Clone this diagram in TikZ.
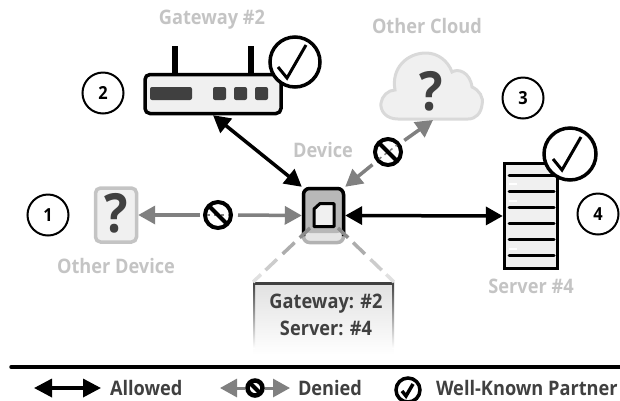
\documentclass[tikz,border=0pt]{standalone}
\usepackage{fontspec}
\setmainfont[FakeStretch=0.91]{Open Sans}
\usetikzlibrary{arrows.meta,calc}
\definecolor{lbl}{HTML}{C4C4C4}
\definecolor{ink}{HTML}{404040}
\definecolor{pale}{HTML}{F0F0F0}
\definecolor{deny}{HTML}{808080}
\newcommand{\fs}[1]{\fontsize{#1}{#1}\selectfont\bfseries}
\newcommand{\wkcheck}[2]{\draw[line width=3pt,line join=miter] ($(#1)+(-17,5)$) -- ($(#1)+(-8,16)$) -- ($(#1)+(11,-17)$);}
\tikzset{
  x=1pt,y=-1pt,
  every node/.style={inner sep=0pt,outer sep=0pt},
  caption/.style={text=lbl,font=\fs{20},anchor=base},
  legendtext/.style={text=ink,font=\fs{20},anchor=base west},
  numcircle/.style={circle,draw=black,line width=2pt,fill=white,minimum size=41pt,font=\fs{18}},
  checkcircle/.style={circle,draw=black,line width=3.5pt,fill=white,minimum size=50pt},
  stopsign/.style={circle,draw=black,line width=4pt,fill=white,minimum size=26pt},
  bigtips/.style={{Triangle[length=17pt,width=18pt]}-{Triangle[length=17pt,width=18pt]}},
  allowed/.style={line width=3.5pt,black,bigtips},
  denied/.style={line width=3.5pt,deny,-{Triangle[length=17pt,width=18pt]}},
  qmark/.style={text=ink,font=\fs{54}},
}
\begin{document}
\begin{tikzpicture}
\useasboundingbox (0,0) rectangle (620,400);
% numbered circles
\node[numcircle] (n1) at (48,215) {1};
\node[numcircle] (n2) at (103,93) {2};
\node[numcircle] (n3) at (523,98) {3};
\node[numcircle] (n4) at (598,214) {4};
% captions
\node[caption] (capgw) at (212,24) {Gateway \#2};
\node[caption] (capcl) at (427,33) {Other Cloud};
\node[caption] (capdev) at (323,157) {Device};
\node[caption] (capod) at (116,273) {Other Device};
\node[caption] (capsv) at (531,293) {Server \#4};
% gateway
\draw[line width=6pt] (175,46) -- (175,75) (251,46) -- (251,75);
\node[draw=black,fill=pale,line width=3.5pt,rounded corners=5pt,minimum width=136pt,minimum height=39pt,outer sep=1.7pt] (gw) at (213,94) {};
\fill[ink,rounded corners=2pt] (150,87) rectangle (192,100);
\foreach \xx in {213,234,255} \fill[ink,rounded corners=2pt] (\xx,87) rectangle ++(13,13);
\node[checkcircle] (gwcheck) at (295,62) {};
\wkcheck{gwcheck}{}
% other device
\node[draw=lbl,fill=pale,line width=3.5pt,rounded corners=5pt,minimum width=41pt,minimum height=54pt,outer sep=1.7pt] (od) at (116,215) {};
\node[qmark] (odq) at (116,213) {?};
% cloud
\draw[draw=black!15,fill=pale,line width=3pt] (398,119)
  .. controls (386,119) and (380,111) .. (381,103)
  .. controls (382,96) and (388,90) .. (395,90)
  .. controls (391,68) and (407,53) .. (426,53)
  .. controls (438,53) and (448,61) .. (452,72)
  .. controls (458,68) and (470,72) .. (472,87)
  .. controls (479,90) and (484,97) .. (482,105)
  .. controls (481,113) and (476,119) .. (468,119) -- cycle;
\node[qmark] (clq) at (431,91) {?};
\coordinate (clS) at (433,120);
% server
\node[draw=black,fill=pale,line width=3.5pt,minimum width=53pt,minimum height=105pt,outer sep=1.7pt] (sv) at (531,216) {};
\foreach \yy in {175,191,207,223,239,255} \draw[line width=3pt,line cap=round] (509,\yy) -- (554,\yy);
\foreach \yy in {184,201,249} \draw[white,line width=2pt] (509,\yy) -- (517,\yy);
\node[checkcircle,minimum size=52pt] (svcheck) at (570,154) {};
\wkcheck{svcheck}{}
% device
\node[fill=black!10,draw=black!30,line width=3.5pt,rounded corners=6pt,minimum width=40pt,minimum height=54pt,outer sep=1.7pt] (dev) at (323.5,215.5) {};
\fill[black!28,rounded corners=6pt] (304,189) -- (343,189) -- (343,233) -- (304,233) -- cycle;
\draw[line width=3.5pt,rounded corners=6pt] (303.5,236) -- (303.5,188.5) -- (343.5,188.5) -- (343.5,236);
\draw[line width=3pt,fill=pale,line join=round] (314,209) -- (320,203.5) -- (334,203.5) -- (334,226.5) -- (314,226.5) -- cycle;
% popup box
\coordinate (dL) at (310,228);
\coordinate (dR) at (338,228);
\node[top color=black!12,bottom color=white,minimum width=141pt,minimum height=73pt] (box) at (323.5,318.5) {};
\coordinate (tg) at (326,308);
\coordinate (ts) at (326,335);
\node[text=ink,font=\fs{20},anchor=base] (boxt1) at (tg) {Gateway: \#2};
\node[text=ink,font=\fs{20},anchor=base] (boxt2) at (ts) {Server: \#4};
\fill[ink] (box.north west) rectangle ($(box.north east)+(0,3)$);
\shade[top color=ink,bottom color=white] (box.north west) rectangle ($(box.west)+(2,30)$);
\shade[top color=ink,bottom color=white] ($(box.north east)+(-2,0)$) rectangle ($(box.east)+(0,30)$);
\foreach \cc/\aa/\bb in {black!45/0/.18,black!32/.27/.48,black!20/.58/.78,black!12/.86/1} {
  \draw[\cc,line width=3.5pt] ($(dL)!\aa!(box.north west)$) -- ($(dL)!\bb!(box.north west)$);
  \draw[\cc,line width=3.5pt] ($(dR)!\aa!(box.north east)$) -- ($(dR)!\bb!(box.north east)$);
}
% stop signs
\node[stopsign] (st1) at (218,215) {};
\draw[deny,line width=1.5pt,dash pattern=on 3pt off 4pt] ($(st1)+(-11,0)$) -- ($(st1)+(11,0)$);
\draw[line width=4pt] ($(st1)+(-9,-9)$) -- ($(st1)+(9,9)$);
\node[stopsign] (st2) at (388,152) {};
\draw[deny,line width=1.5pt,dash pattern=on 3pt off 4pt] ($(st2)+(-9,7)$) -- ($(st2)+(9,-7)$);
\draw[line width=4pt] ($(st2)+(-9,-9)$) -- ($(st2)+(9,9)$);
% connectors
\draw[allowed] (gw.south) -- (dev.north west);
\draw[allowed] (dev.east) -- (sv.west);
\draw[denied] ($(st1)+(20,0)$) -- (dev.west);
\draw[denied] ($(st1)+(-18,0)$) -- (od.east);
\draw[denied] ($(st2)!20pt!(dev.north east)$) -- (dev.north east);
\draw[denied] ($(st2)!20pt!(clS)$) -- (clS);
% rule
\coordinate (ruleL) at (11,367);
\coordinate (ruleR) at (620,367);
\draw[line width=3.5pt,line cap=round] (ruleL) -- (ruleR);
% legend
\coordinate (la1) at (34,388);
\coordinate (la2) at (101,388);
\draw[line width=3.5pt,{Triangle[length=18pt,width=18pt]}-{Triangle[length=18pt,width=18pt]}] (la1) -- (la2);
\node[legendtext] (tall) at (110,395) {Allowed};
\coordinate (ld1) at (220,388);
\coordinate (ld2) at (290,388);
\node[circle,draw=black,line width=4.5pt,fill=white,minimum size=15pt] (lst) at (255,388) {};
\draw[line width=4pt] ($(lst)+(-5,-5)$) -- ($(lst)+(5,5)$);
\draw[deny,line width=3pt,-{Triangle[length=17pt,width=18pt]}] ($(lst)+(-10,0)$) -- (ld1);
\draw[deny,line width=3pt,-{Triangle[length=17pt,width=18pt]}] ($(lst)+(10,0)$) -- (ld2);
\node[legendtext] (tden) at (298,395) {Denied};
\node[circle,draw=black,line width=3.5pt,fill=white,minimum size=24pt] (lck) at (408,390) {};
\draw[line width=3.5pt] ($(lck)+(-6,1)$) -- ($(lck)+(-2,6)$) -- ($(lck)+(5,-6)$);
\node[legendtext] (twk) at (436,395) {Well-Known Partner};
\end{tikzpicture}
\end{document}
